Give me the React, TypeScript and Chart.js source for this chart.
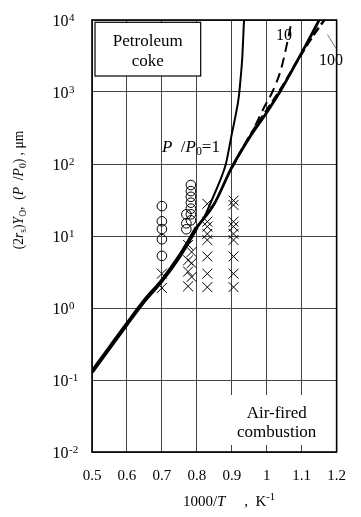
import React, { useEffect, useRef } from "react";
import { Chart, registerables } from "chart.js";

Chart.register(...registerables);

// ---- data ----
const xTickValues = [0.5, 0.6, 0.7, 0.8, 0.9, 1.0, 1.1, 1.2];
const yTickValues = [0.01, 0.1, 1, 10, 100, 1000, 10000];
const yTickExponents = ["-2", "-1", "0", "1", "2", "3", "4"];

// shared lower trunk of the model curves
const trunkX = [0.5, 0.55, 0.6, 0.65, 0.7, 0.75, 0.8];
const trunkY = [0.13, 0.28, 0.6, 1.26, 2.4, 5.2, 13.2];

// P/P0 = 1 branch
const curve1X = [0.8, 0.82, 0.85, 0.87, 0.883, 0.9, 0.91, 0.92, 0.925, 0.93, 0.935];
const curve1Y = [13.2, 18, 38, 65, 100, 260, 450, 850, 1500, 3000, 10000];

// thick solid branch
const baseX = [0.8, 0.85, 0.9, 0.95, 1.0, 1.04, 1.07, 1.1, 1.13, 1.15];
const baseY = [13.2, 28, 90, 230, 520, 1050, 1900, 3500, 6500, 10000];

// P/P0 = 10 branch (dashed)
const curve10X = [0.9, 0.93, 0.96, 0.99, 1.016, 1.04, 1.055, 1.072];
const curve10Y = [90, 160, 290, 580, 1000, 2000, 4000, 10000];

// P/P0 = 100 branch (dashed)
const curve100X = [0.9, 0.95, 1.0, 1.04, 1.1, 1.14, 1.165];
const curve100Y = [88, 240, 560, 1100, 3400, 6800, 10000];

// measurements: circles
const circleX = [0.7, 0.7, 0.7, 0.7, 0.7, 0.77, 0.77, 0.77, 0.783, 0.783, 0.783, 0.783, 0.783, 0.783, 0.783];
const circleY = [26, 16, 12.5, 9, 5.3, 20, 15, 12.4, 51, 42, 35, 29, 24, 20, 16.5];

// measurements: crosses
const crossX = [
  0.7, 0.7,
  0.775, 0.775, 0.775, 0.775, 0.785, 0.785, 0.785,
  0.83, 0.83, 0.83, 0.83, 0.83, 0.83, 0.83, 0.83,
  0.905, 0.905, 0.905, 0.905, 0.905, 0.905, 0.905, 0.905, 0.905,
];
const crossY = [
  3.0, 1.9,
  7.5, 4.6, 3.2, 2.0, 6.0, 4.2, 2.7,
  28, 15.8, 13.5, 10.7, 8.8, 5.2, 3.0, 1.95,
  31, 27, 15.8, 13.5, 10.7, 8.8, 5.2, 3.0, 1.95,
];

const FONT = '"Liberation Serif", "Times New Roman", serif';

const pts = (xs: number[], ys: number[]) => xs.map((x, i) => ({ x, y: ys[i] }));

type Run = { t: string; it?: boolean; sub?: boolean; sup?: boolean };

function runsWidth(ctx: CanvasRenderingContext2D, runs: Run[], size: number) {
  let w = 0;
  for (const r of runs) {
    const s = r.sub || r.sup ? size * 0.7 : size;
    ctx.font = `${r.it ? "italic " : ""}${s}px ${FONT}`;
    w += ctx.measureText(r.t).width;
  }
  return w;
}

function drawRuns(
  ctx: CanvasRenderingContext2D,
  runs: Run[],
  x: number,
  y: number,
  size: number,
  align: "left" | "center"
) {
  const total = runsWidth(ctx, runs, size);
  let cx = align === "center" ? x - total / 2 : x;
  ctx.textAlign = "left";
  ctx.textBaseline = "alphabetic";
  for (const r of runs) {
    const s = r.sub || r.sup ? size * 0.7 : size;
    ctx.font = `${r.it ? "italic " : ""}${s}px ${FONT}`;
    const dy = r.sub ? size * 0.22 : r.sup ? -size * 0.38 : 0;
    ctx.fillText(r.t, cx, y + dy);
    cx += ctx.measureText(r.t).width;
  }
}

const annotPlugin = {
  id: "annot",
  beforeDatasetsDraw(chart: any) {
    const { ctx, chartArea: a } = chart;
    ctx.save();
    // white background behind "Air-fired combustion"
    ctx.fillStyle = "#fff";
    ctx.fillRect(a.left + 134, a.bottom - 57, 102, 50);
    // Petroleum coke box
    ctx.fillRect(a.left + 3, a.top + 2.3, 105.7, 53.7);
    ctx.strokeStyle = "#000";
    ctx.lineWidth = 1.2;
    ctx.strokeRect(a.left + 3, a.top + 2.3, 105.7, 53.7);
    ctx.restore();
  },
  afterDraw(chart: any) {
    const { ctx, chartArea: a, scales } = chart;
    const ys = scales.y;
    const xs = scales.x;
    ctx.save();
    // frame
    ctx.strokeStyle = "#000";
    ctx.lineWidth = 1.6;
    ctx.strokeRect(a.left, a.top, a.right - a.left, a.bottom - a.top);

    ctx.fillStyle = "#000";
    // y tick labels 10^n
    yTickValues.forEach((v, i) => {
      const py = ys.getPixelForValue(v);
      ctx.font = `16px ${FONT}`;
      ctx.textAlign = "left";
      ctx.textBaseline = "alphabetic";
      ctx.fillText("10", a.left - 39.5, py + 5.5);
      ctx.font = `11px ${FONT}`;
      ctx.fillText(yTickExponents[i], a.left - 23, py + 0.5);
    });

    // Petroleum coke text
    ctx.font = `17px ${FONT}`;
    ctx.textAlign = "center";
    ctx.textBaseline = "alphabetic";
    ctx.fillText("Petroleum", a.left + 55.8, a.top + 26.3);
    ctx.fillText("coke", a.left + 55.8, a.top + 45.7);

    // Air-fired combustion
    ctx.fillText("Air-fired", a.left + 184.7, a.bottom - 34.5);
    ctx.fillText("combustion", a.left + 184.7, a.bottom - 15.5);

    // P/P0 = 1 label
    drawRuns(
      ctx,
      [{ t: "P", it: true }, { t: "  /" }, { t: "P", it: true }, { t: "0", sub: true }, { t: "=1" }],
      xs.getPixelForValue(0.7),
      a.top + 131.7,
      17,
      "left"
    );

    // 10 and 100 labels
    ctx.font = `16px ${FONT}`;
    ctx.textAlign = "center";
    ctx.textBaseline = "middle";
    ctx.fillText("10", a.left + 192, a.top + 16);
    ctx.fillText("100", a.left + 239, a.top + 41);
    // leader line for 100
    ctx.strokeStyle = "#555";
    ctx.lineWidth = 0.8;
    ctx.beginPath();
    ctx.moveTo(a.left + 235.5, a.top + 14.5);
    ctx.lineTo(a.left + 244, a.top + 28.5);
    ctx.stroke();

    // x title
    drawRuns(
      ctx,
      [{ t: "1000/" }, { t: "T", it: true }, { t: "     ,  K" }, { t: "-1", sup: true }],
      229,
      506,
      15,
      "center"
    );

    // y title rotated
    ctx.translate(23, 190);
    ctx.rotate(-Math.PI / 2);
    drawRuns(
      ctx,
      [
        { t: "(2" },
        { t: "r", it: true },
        { t: "s", sub: true },
        { t: ")" },
        { t: "Y", it: true },
        { t: "O", sub: true },
        { t: ",  (" },
        { t: "P", it: true },
        { t: "  /" },
        { t: "P", it: true },
        { t: "0", sub: true },
        { t: ") , \u03bcm" },
      ],
      0,
      0,
      13.6,
      "center"
    );
    ctx.restore();
  },
};

export default function App() {
  const ref = useRef<HTMLCanvasElement>(null);

  useEffect(() => {
    if (!ref.current) return;
    const lineDs = (data: any[], width: number, dash: number[] = []) => ({
      type: "line",
      data,
      borderColor: "#000",
      borderWidth: width,
      borderDash: dash,
      pointRadius: 0,
      fill: false,
      cubicInterpolationMode: "monotone",
      showLine: true,
    });
    const chart = new Chart(ref.current, {
      type: "line",
      data: {
        datasets: [
          lineDs(pts(trunkX, trunkY), 4),
          lineDs(pts(curve1X, curve1Y), 2),
          lineDs(pts(baseX, baseY), 2.8),
          lineDs(pts(curve10X, curve10Y), 2, [10, 6]),
          lineDs(pts(curve100X, curve100Y), 2.5, [9, 4]),
          {
            type: "scatter",
            data: pts(circleX, circleY),
            pointStyle: "circle",
            pointRadius: 4.8,
            pointBorderWidth: 1,
            pointBorderColor: "#000",
            pointBackgroundColor: "rgba(0,0,0,0)",
            showLine: false,
          },
          {
            type: "scatter",
            data: pts(crossX, crossY),
            pointStyle: "crossRot",
            pointRadius: 7,
            pointBorderWidth: 1,
            pointBorderColor: "#000",
            showLine: false,
          },
        ] as any,
      },
      options: {
        responsive: false,
        animation: false,
        devicePixelRatio: 1,
        layout: { padding: { top: 20, right: 14, left: 0, bottom: 0 } },
        plugins: { legend: { display: false }, tooltip: { enabled: false } },
        scales: {
          x: {
            type: "linear",
            min: 0.5,
            max: 1.2,
            afterBuildTicks: (s: any) => {
              s.ticks = xTickValues.map((v) => ({ value: v }));
            },
            ticks: {
              callback: (v: any) => String(Math.round(Number(v) * 10) / 10),
              font: { family: FONT, size: 15 },
              color: "#000",
              padding: 15,
              maxRotation: 0,
              autoSkip: false,
            },
            grid: { color: "#444", lineWidth: 1, drawTicks: false },
            border: { display: false },
            afterFit: (s: any) => {
              s.height = 65;
            },
          },
          y: {
            type: "logarithmic",
            min: 0.01,
            max: 10000,
            afterBuildTicks: (s: any) => {
              s.ticks = yTickValues.map((v) => ({ value: v }));
            },
            ticks: { callback: () => "", autoSkip: false },
            grid: { color: "#444", lineWidth: 1, drawTicks: false },
            border: { display: false },
            afterFit: (s: any) => {
              s.width = 92;
            },
          },
        },
      } as any,
      plugins: [annotPlugin],
    });
    return () => chart.destroy();
  }, []);

  return (
    <div style={{ position: "fixed", left: 0, top: 0, width: 361, height: 517, background: "#fff" }}>
      <canvas ref={ref} width={361} height={517} style={{ display: "block" }} />
    </div>
  );
}
